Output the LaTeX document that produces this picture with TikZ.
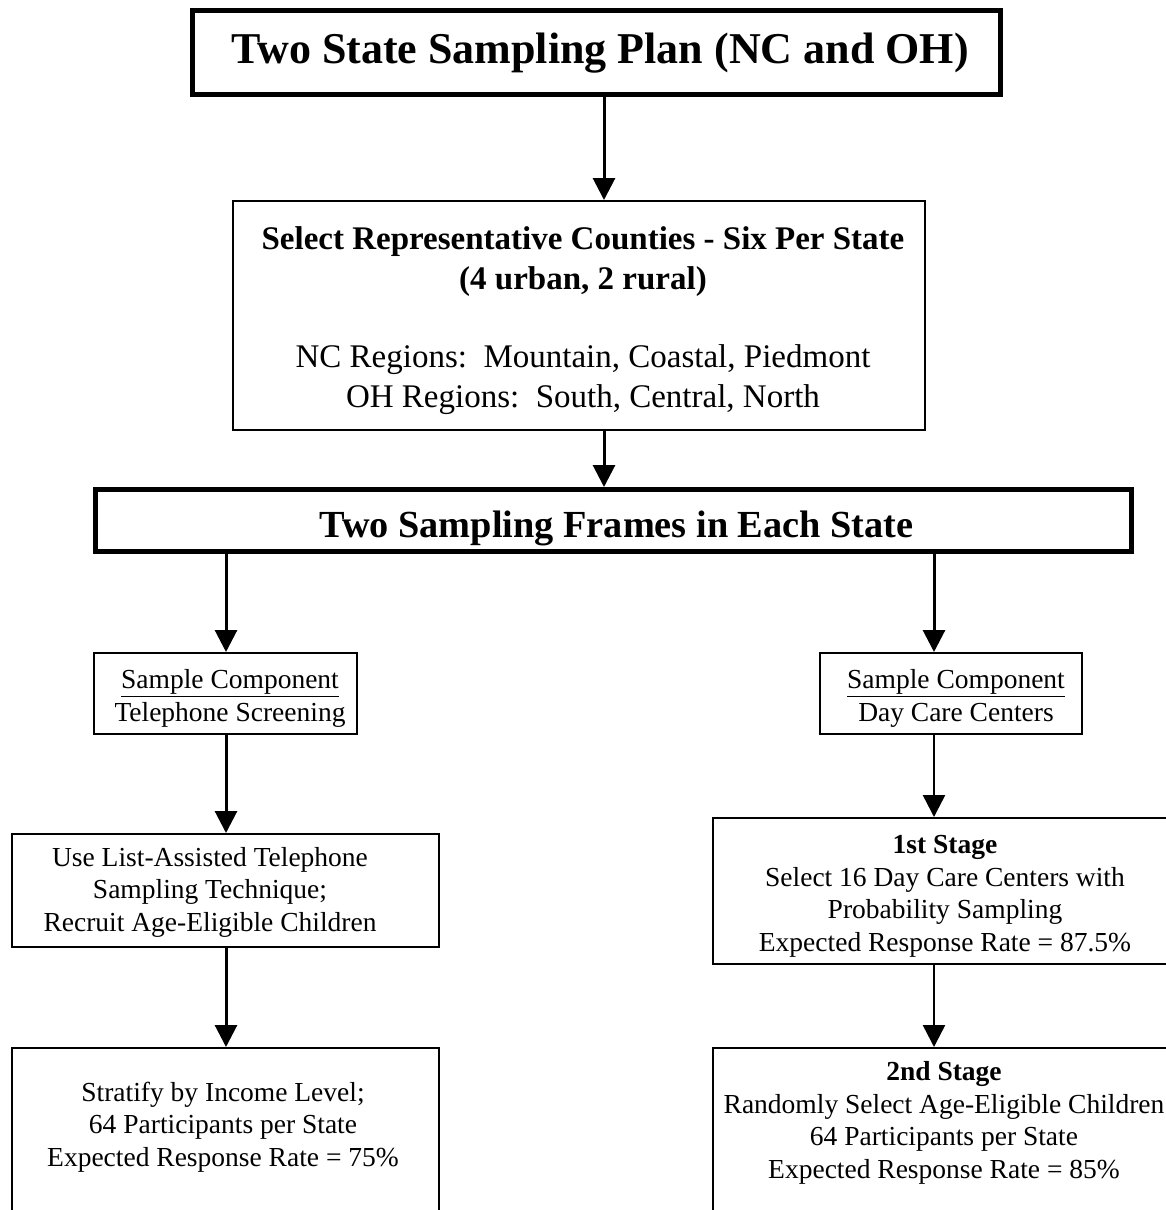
\documentclass[tikz,border=0pt]{standalone}
\usepackage{fontspec}
\setmainfont{Liberation Serif}
\usetikzlibrary{arrows.meta}
\tikzset{
  thickbox/.style={draw, line width=5bp, inner sep=0pt},
  thinbox/.style={draw, line width=2bp, inner sep=0pt},
  txt/.style={align=center, inner sep=0pt, anchor=base},
  conn/.style={line width=3bp, -{Triangle[width=22bp,length=22bp]}},
  connthin/.style={line width=2.5bp, -{Triangle[width=22bp,length=22bp]}},
  bigfont/.style={font=\fontsize{44bp}{50bp}\selectfont\bfseries},
  midfont/.style={font=\fontsize{38.3bp}{44bp}\selectfont\bfseries},
  boxfont/.style={font=\fontsize{33bp}{39.3bp}\selectfont},
  smallfont/.style={font=\fontsize{27.5bp}{32.3bp}\selectfont},
  stagefont/.style={font=\fontsize{27.5bp}{32.5bp}\selectfont},
}
\begin{document}
\begin{tikzpicture}[x=1bp,y=-1bp]
\useasboundingbox (0,0) rectangle (1166,1210);
\fill[white] (0,0) rectangle (1166,1210);
\clip (0,0) rectangle (1166,1210);

% boxes
\node[thickbox, minimum width=808bp, minimum height=84bp] (b1) at (596.5,52.5) {};
\node[thinbox, minimum width=692bp, minimum height=229bp] (b2) at (579,315.5) {};
\node[thickbox, minimum width=1036bp, minimum height=62bp] (b3) at (613.5,520.5) {};
\node[thinbox, minimum width=263bp, minimum height=81bp] (b4l) at (225.5,693.5) {};
\node[thinbox, minimum width=262bp, minimum height=81bp] (b4r) at (951,693.5) {};
\node[thinbox, minimum width=427bp, minimum height=113bp] (b5l) at (225.5,890.5) {};
\node[thinbox, minimum width=464bp, minimum height=146bp] (b5r) at (945,891) {};
\node[thinbox, minimum width=427bp, minimum height=252bp] (b6l) at (225.5,1174) {};
\node[thinbox, minimum width=464bp, minimum height=252bp] (b6r) at (945,1174) {};

% texts (base anchor = baseline of the last line)
\node[txt, bigfont] (t1) at (600,63) {Two State Sampling Plan (NC and OH)};
\node[txt, boxfont] (t2) at (583,407) {\textbf{Select Representative Counties - Six Per State}\\
  \textbf{(4 urban, 2 rural)}\\[39.3bp]
  NC Regions:\ \ Mountain, Coastal, Piedmont\\
  OH Regions:\ \ South, Central, North};
\node[txt, midfont] (t3) at (616.5,537) {Two Sampling Frames in Each State};
\node[txt, smallfont] (t4l) at (230,721) {\underline{Sample Component}\\Telephone Screening};
\node[txt, smallfont] (t4r) at (956,721) {\underline{Sample Component}\\Day Care Centers};
\node[txt, smallfont] (t5l) at (210,931) {Use List-Assisted Telephone\\Sampling Technique;\\Recruit Age-Eligible Children};
\node[txt, stagefont] (t5r) at (945,951) {\textbf{1st Stage}\\Select 16 Day Care Centers with\\Probability Sampling\\Expected Response Rate = 87.5\%};
\node[txt, stagefont] (t6l) at (223,1166) {Stratify by Income Level;\\64 Participants per State\\Expected Response Rate = 75\%};
\node[txt, stagefont] (t6r) at (944,1178) {\textbf{2nd Stage}\\Randomly Select Age-Eligible Children\\64 Participants per State\\Expected Response Rate = 85\%};

% connector columns
\coordinate (cm) at (604,0);
\coordinate (cl) at (226,0);
\coordinate (cr) at (934,0);

\draw[conn] (b1.south -| cm) -- (b2.north -| cm);
\draw[conn] (b2.south -| cm) -- (b3.north -| cm);
\draw[conn] (b3.south -| cl) -- (b4l.north -| cl);
\draw[conn] (b3.south -| cr) -- (b4r.north -| cr);
\draw[conn] (b4l.south -| cl) -- (b5l.north -| cl);
\draw[connthin] (b4r.south -| cr) -- (b5r.north -| cr);
\draw[conn] (b5l.south -| cl) -- (b6l.north -| cl);
\draw[connthin] (b5r.south -| cr) -- (b6r.north -| cr);
\end{tikzpicture}
\end{document}
